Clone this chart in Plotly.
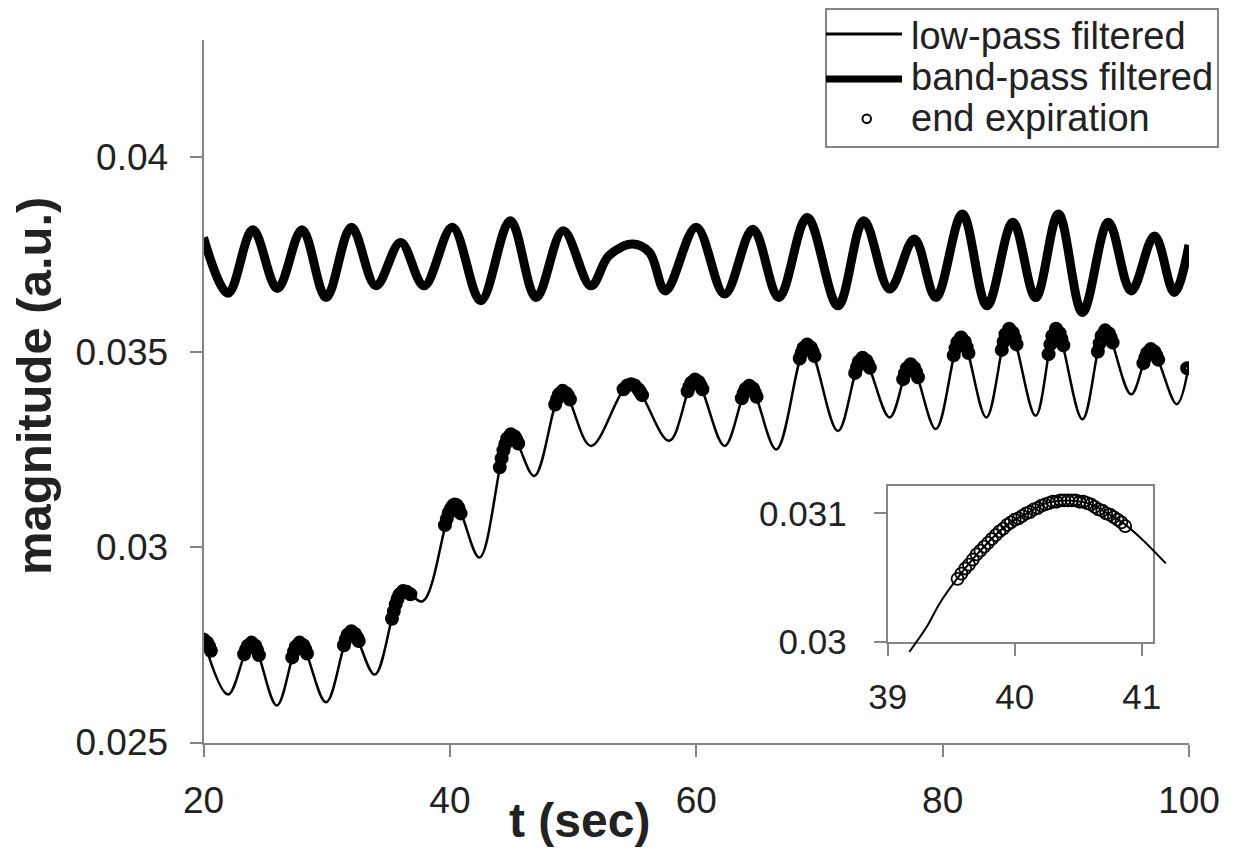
import plotly.graph_objects as go

# ---------------- data ----------------
t_lowpass = [20.0, 22.0, 23.9, 25.95, 27.8, 29.95, 32.0, 33.9, 36.2, 37.8,
             40.4, 42.4, 44.95, 46.85, 49.15, 51.45, 54.7, 57.8, 59.9, 62.3,
             64.3, 66.5, 69.0, 71.5, 73.5, 75.7, 77.4, 79.45, 81.5, 83.55,
             85.4, 87.55, 89.2, 91.35, 93.2, 95.3, 96.9, 99.0, 100.0]
y_lowpass = [0.02764, 0.02623, 0.02756, 0.02595, 0.02756, 0.02603, 0.02785, 0.02674, 0.02888, 0.02862,
             0.03110, 0.02974, 0.03290, 0.03183, 0.03401, 0.03260, 0.03418, 0.03273, 0.03430, 0.03260,
             0.03414, 0.03251, 0.03520, 0.03298, 0.03486, 0.03333, 0.03469, 0.03303, 0.03538, 0.03333,
             0.03560, 0.03337, 0.03560, 0.03328, 0.03556, 0.03392, 0.03508, 0.03367, 0.03470]

t_bandpass = [20.0, 22.0, 24.0, 26.0, 28.0, 29.95, 32.0, 34.0, 36.0, 37.9,
              40.2, 42.5, 44.9, 47.0, 49.2, 51.45, 52.9, 54.8, 56.2, 57.5,
              60.0, 62.3, 64.6, 66.7, 69.0, 71.5, 73.6, 75.7, 77.7, 79.45,
              81.6, 83.6, 85.7, 87.55, 89.4, 91.35, 93.45, 95.3, 97.2, 98.8, 100.0]
y_bandpass = [0.03794, 0.03651, 0.03814, 0.03663, 0.03814, 0.03640, 0.03820, 0.03670, 0.03781, 0.03670,
              0.03820, 0.03632, 0.03837, 0.03640, 0.03811, 0.03670, 0.03747, 0.03777, 0.03756, 0.03657,
              0.03820, 0.03649, 0.03815, 0.03640, 0.03845, 0.03619, 0.03837, 0.03662, 0.03790, 0.03640,
              0.03854, 0.03619, 0.03833, 0.03640, 0.03854, 0.03602, 0.03833, 0.03657, 0.03798, 0.03653, 0.03775]

t_endexp = [20.0, 20.3, 20.45, 20.6,
            23.3, 23.45, 23.6, 23.9, 24.2, 24.35, 24.5,
            27.2, 27.35, 27.5, 27.8, 28.1, 28.25, 28.4,
            31.4, 31.55, 31.7, 32.0, 32.3, 32.45, 32.6,
            35.3, 35.45, 35.6, 35.75, 35.9, 36.2, 36.5, 36.8,
            39.6, 39.75, 39.9, 40.1, 40.25, 40.4, 40.55, 40.7, 40.87,
            44.05, 44.2, 44.35, 44.5, 44.65, 44.95, 45.25, 45.4, 45.55,
            48.55, 48.7, 48.85, 49.15, 49.45, 49.6, 49.75,
            54.1, 54.4, 54.7, 55.0, 55.3, 55.45, 55.6,
            59.3, 59.45, 59.6, 59.9, 60.2, 60.35, 60.5,
            63.7, 63.85, 64.0, 64.3, 64.6, 64.75, 64.9,
            68.4, 68.55, 68.7, 69.0, 69.3, 69.45, 69.6,
            72.9, 73.05, 73.2, 73.5, 73.8, 73.95, 74.1,
            76.8, 76.95, 77.1, 77.4, 77.7, 77.85, 78.0,
            80.9, 81.05, 81.2, 81.5, 81.8, 81.95, 82.1,
            84.8, 84.95, 85.1, 85.4, 85.7, 85.85, 86.0,
            88.6, 88.75, 88.9, 89.2, 89.5, 89.65, 89.8,
            92.6, 92.75, 92.9, 93.2, 93.5, 93.65, 93.8,
            96.3, 96.45, 96.6, 96.9, 97.2, 97.35, 97.5,
            99.85]
y_endexp = [0.02764, 0.02756, 0.02747, 0.02735,
            0.02726, 0.02738, 0.02748, 0.02756, 0.02748, 0.02737, 0.02724,
            0.02718, 0.02733, 0.02746, 0.02756, 0.02749, 0.02739, 0.02728,
            0.02749, 0.02764, 0.02776, 0.02785, 0.02778, 0.02770, 0.02760,
            0.02817, 0.02836, 0.02854, 0.02868, 0.02879, 0.02888, 0.02886, 0.02880,
            0.03057, 0.03073, 0.03088, 0.03100, 0.03107, 0.03110, 0.03108, 0.03101, 0.03087,
            0.03205, 0.03228, 0.03249, 0.03265, 0.03279, 0.03290, 0.03284, 0.03276, 0.03266,
            0.03366, 0.03380, 0.03392, 0.03401, 0.03395, 0.03388, 0.03379,
            0.03405, 0.03415, 0.03418, 0.03415, 0.03405, 0.03398, 0.03390,
            0.03400, 0.03412, 0.03422, 0.03430, 0.03424, 0.03415, 0.03405,
            0.03382, 0.03395, 0.03406, 0.03414, 0.03407, 0.03397, 0.03386,
            0.03484, 0.03498, 0.03511, 0.03520, 0.03512, 0.03502, 0.03490,
            0.03447, 0.03462, 0.03476, 0.03486, 0.03479, 0.03470, 0.03460,
            0.03431, 0.03446, 0.03459, 0.03469, 0.03460, 0.03449, 0.03436,
            0.03492, 0.03510, 0.03526, 0.03538, 0.03527, 0.03513, 0.03498,
            0.03506, 0.03527, 0.03546, 0.03560, 0.03550, 0.03536, 0.03520,
            0.03495, 0.03520, 0.03542, 0.03560, 0.03549, 0.03534, 0.03518,
            0.03502, 0.03523, 0.03542, 0.03556, 0.03548, 0.03537, 0.03525,
            0.03472, 0.03486, 0.03498, 0.03508, 0.03501, 0.03492, 0.03481,
            0.03459]

# inset (zoom around t = 40 s)
t_inset = [39.17, 39.31, 39.41, 39.53, 39.73, 39.94, 40.10, 40.25, 40.41,
           40.57, 40.73, 40.86, 40.99, 41.19]
y_inset = [0.02992, 0.03012, 0.03030, 0.03047, 0.03071, 0.03091, 0.03100, 0.03108, 0.03110,
           0.03108, 0.03100, 0.03092, 0.03081, 0.03061]
t_inset_endexp = [39.55, 39.58, 39.61, 39.64, 39.67, 39.70, 39.73, 39.76, 39.79, 39.82,
                  39.85, 39.88, 39.91, 39.94, 39.97, 40.00, 40.03, 40.06, 40.09, 40.12,
                  40.15, 40.18, 40.21, 40.24, 40.27, 40.30, 40.33, 40.36, 40.39, 40.42,
                  40.45, 40.48, 40.51, 40.54, 40.57, 40.60, 40.63, 40.66, 40.69, 40.72,
                  40.75, 40.78, 40.81, 40.84, 40.87]
y_inset_endexp = [0.03049, 0.03053, 0.03057, 0.03060, 0.03064, 0.03068, 0.03071, 0.03074, 0.03077, 0.03080,
                  0.03083, 0.03086, 0.03088, 0.03091, 0.03093, 0.03095, 0.03096, 0.03098, 0.03100, 0.03101,
                  0.03103, 0.03104, 0.03106, 0.03107, 0.03108, 0.03109, 0.03109, 0.03110, 0.03110, 0.03110,
                  0.03110, 0.03110, 0.03109, 0.03109, 0.03108, 0.03107, 0.03105, 0.03103, 0.03102, 0.03100,
                  0.03099, 0.03097, 0.03095, 0.03093, 0.03090]

x_ticks = [20, 40, 60, 80, 100]
y_ticks = [0.025, 0.03, 0.035, 0.04]
y_tick_text = ["0.025", "0.03", "0.035", "0.04"]
inset_x_ticks = [39, 40, 41]
inset_y_ticks = [0.03, 0.031]
inset_y_tick_text = ["0.03", "0.031"]
legend_labels = ["low-pass filtered", "band-pass filtered", "end expiration"]
x_title = "t (sec)"
y_title = "magnitude (a.u.)"

# ---------------- layout geometry (screen pixels) ----------------
# the page body has an 8 px margin, so the figure is 16 px smaller and
# every screen coordinate is shifted by that offset
OFF = 8
W, H = 1240 - 2 * OFF, 856 - 2 * OFF
def px(x):
    return (x - OFF) / W
def py(y):
    return 1 - (y - OFF) / H

FONT = "Liberation Sans, Arial, sans-serif"
TXT = "#222222"
AX = "#858585"

# main plot area
MX0, MX1, MY0, MY1 = 203.5, 1189.0, 40.0, 742.5   # left, right, top, bottom
# inset box and its scale
IX0, IX1, IY0, IY1 = 887.7, 1153.0, 485.7, 641.7
I_X39, I_X41 = 887.7, 1141.7        # pixel of t=39 and t=41
I_Y030, I_Y031 = 641.7, 513.3       # pixel of 0.030 and 0.031
sx = (I_X41 - I_X39) / 2.0
sy = (I_Y030 - I_Y031) / 0.001
def inv_x(p):
    return 39 + (p - I_X39) / sx
def inv_y(p):
    return 0.030 + (I_Y030 - p) / sy
# wider, invisible overlay with the same scale (so the curve can leave the box)
OX0, OX1, OY0, OY1 = 870.0, 1185.0, 465.0, 668.0

fig = go.Figure()

fig.add_trace(go.Scatter(x=t_bandpass, y=y_bandpass, mode="lines",
                         line=dict(color="black", width=9, shape="spline", smoothing=1.0),
                         name=legend_labels[1], xaxis="x", yaxis="y"))
fig.add_trace(go.Scatter(x=t_lowpass, y=y_lowpass, mode="lines",
                         line=dict(color="black", width=2.5, shape="spline", smoothing=1.0),
                         name=legend_labels[0], xaxis="x", yaxis="y"))
fig.add_trace(go.Scatter(x=t_endexp, y=y_endexp, mode="markers",
                         marker=dict(symbol="circle-open", size=8, color="black",
                                     line=dict(width=6, color="black")),
                         name=legend_labels[2], xaxis="x", yaxis="y"))

# inset traces
fig.add_trace(go.Scatter(x=t_inset_endexp, y=y_inset_endexp, mode="markers", cliponaxis=False,
                         marker=dict(symbol="circle-open", size=12, color="black",
                                     line=dict(width=1.8, color="black")),
                         xaxis="x2", yaxis="y2", showlegend=False))
fig.add_trace(go.Scatter(x=t_inset, y=y_inset, mode="lines",
                         line=dict(color="black", width=2, shape="spline", smoothing=1.0),
                         xaxis="x3", yaxis="y3", showlegend=False))

axis_common = dict(showgrid=False, zeroline=False, showline=True, linecolor=AX, linewidth=2,
                   ticks="outside", ticklen=12, tickwidth=2, tickcolor=AX, automargin=False)

fig.update_layout(
    width=W, height=H,
    margin=dict(l=0, r=0, t=0, b=0, autoexpand=False),
    paper_bgcolor="white", plot_bgcolor="rgba(0,0,0,0)",
    showlegend=False,
    xaxis=dict(domain=[px(MX0), px(MX1)], range=[20, 100], tickvals=x_ticks,
               tickfont=dict(family=FONT, size=37, color=TXT), anchor="y",
               ticklabelstandoff=12, **axis_common),
    yaxis=dict(domain=[py(MY1), py(MY0)], range=[0.025, 0.043], tickvals=y_ticks,
               ticktext=y_tick_text,
               tickfont=dict(family=FONT, size=37, color=TXT), anchor="x",
               ticklabelstandoff=14, **axis_common),
    xaxis2=dict(domain=[px(IX0), px(IX1)], range=[39, inv_x(IX1)], tickvals=inset_x_ticks,
                tickfont=dict(family=FONT, size=35, color=TXT), anchor="y2", mirror=True,
                ticklabelstandoff=11, **axis_common),
    yaxis2=dict(domain=[py(IY1), py(IY0)], range=[0.030, inv_y(IY0)], tickvals=inset_y_ticks,
                ticktext=inset_y_tick_text,
                tickfont=dict(family=FONT, size=35, color=TXT), anchor="x2", mirror=True,
                ticklabelstandoff=20, **axis_common),
    xaxis3=dict(domain=[px(OX0), px(OX1)], range=[inv_x(OX0), inv_x(OX1)], visible=False,
                anchor="y3", automargin=False),
    yaxis3=dict(domain=[py(OY1), py(OY0)], range=[inv_y(OY1), inv_y(OY0)], visible=False,
                anchor="x3", automargin=False),
)

# axis titles
fig.add_annotation(text=f"<b>{y_title}</b>", x=px(34), y=py(386), xref="paper", yref="paper",
                   textangle=-90, showarrow=False, xanchor="center", yanchor="middle",
                   font=dict(family=FONT, size=49, color=TXT))
fig.add_annotation(text=f"<b>{x_title}</b>", x=px(579), y=py(820), xref="paper", yref="paper",
                   showarrow=False, xanchor="center", yanchor="middle",
                   font=dict(family=FONT, size=48, color=TXT))

# hand-drawn legend (long line samples as in the original)
fig.add_shape(type="rect", xref="paper", yref="paper", x0=px(826), x1=px(1218), y0=py(147), y1=py(9),
              line=dict(color=AX, width=2), fillcolor="white")
fig.add_shape(type="line", xref="paper", yref="paper", x0=px(826), x1=px(902), y0=py(34), y1=py(34),
              line=dict(color="black", width=3))
fig.add_shape(type="line", xref="paper", yref="paper", x0=px(826), x1=px(902), y0=py(79), y1=py(79),
              line=dict(color="black", width=7))
fig.add_shape(type="circle", xref="paper", yref="paper", x0=px(862.5), x1=px(871), y0=py(123), y1=py(114.5),
              line=dict(color="black", width=2))
for lab, yy in zip(legend_labels, [36, 77, 118]):
    fig.add_annotation(text=lab, x=px(909), y=py(yy), xref="paper", yref="paper", showarrow=False,
                       xanchor="left", yanchor="middle", font=dict(family=FONT, size=38, color=TXT))

fig.write_html("out.html")
